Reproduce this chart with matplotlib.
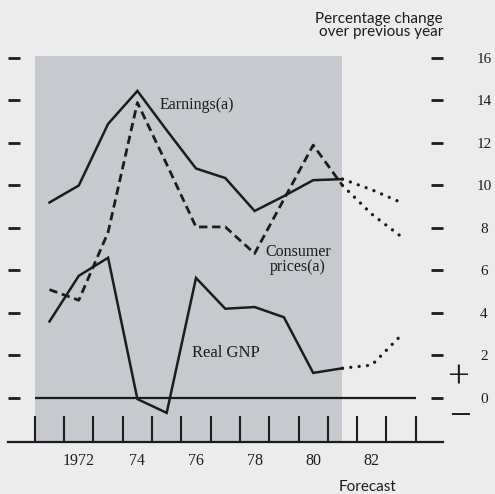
import numpy as np
import matplotlib.pyplot as plt

# values (percentage change over previous year)
years = [1971, 1972, 1973, 1974, 1975, 1976, 1977, 1978, 1979, 1980, 1981]
earnings = [9.2, 10.0, 12.9, 14.45, 12.6, 10.8, 10.35, 8.8, 9.5, 10.25, 10.3]
consumer_prices = [5.1, 4.6, 7.8, 13.9, 11.0, 8.05, 8.05, 6.8, 9.35, 11.9, 10.0]
real_gnp = [3.6, 5.75, 6.6, -0.05, -0.7, 5.65, 4.2, 4.28, 3.8, 1.18, 1.4]

fc_years = [1981, 1982, 1983]
fc_earnings = [10.3, 9.8, 9.2]
fc_consumer_prices = [10.0, 8.65, 7.6]
fc_real_gnp = [1.4, 1.55, 2.95]

label_years = [1972, 1974, 1976, 1978, 1980, 1982]
label_text = ['1972', '74', '76', '78', '80', '82']
y_ticks = [0, 2, 4, 6, 8, 10, 12, 14, 16]
year_edges = np.arange(1970.5, 1984, 1.0)
shade_end = 1981

ink = '#1c1c1c'
paper = '#ececec'
shade = '#c6c9cd'
serif = 'Liberation Serif'

W, H = 495, 494
fig = plt.figure(figsize=(W / 100, H / 100), dpi=100, facecolor=paper)
ax = fig.add_axes([8 / W, 52 / H, 435 / W, 386 / H])
ax.patch.set_visible(False)
ax.set_xlim(1969.584, 1984.43)
ax.set_ylim(-2.071, 16.094)

ax.axvspan(year_edges[0], shade_end, color=shade, lw=0, zorder=0)
ax.hlines(0, year_edges[0], year_edges[-1], color=ink, lw=1.6, zorder=2)

solid = dict(color=ink, lw=1.8, solid_joinstyle='miter', zorder=3)
dotted = dict(color=ink, lw=2.4, ls=(0, (0.01, 2.5)), dash_capstyle='round', zorder=3)

ax.plot(years, earnings, **solid)
ax.plot(years, consumer_prices, color=ink, lw=2.0, ls=(0, (3.0, 1.7)), zorder=3)
ax.plot(years, real_gnp, **solid)
ax.plot(fc_years, fc_earnings, **dotted)
ax.plot(fc_years, fc_consumer_prices, **dotted)
ax.plot(fc_years, fc_real_gnp, **dotted)

# axes furniture
for side in ['left', 'right', 'top']:
    ax.spines[side].set_visible(False)
ax.spines['bottom'].set_linewidth(1.6)
ax.spines['bottom'].set_color(ink)

ax.set_xticks(year_edges, labels=[''] * len(year_edges))
ax.set_xticks(label_years, labels=label_text, minor=True)
ax.tick_params(axis='x', which='major', direction='in', length=19, width=1.5, color=ink)
ax.tick_params(axis='x', which='minor', length=0, pad=8, labelsize=11.5, labelcolor=ink)

ax.set_yticks(y_ticks, labels=[str(v) for v in y_ticks])
ax.tick_params(axis='y', left=True, right=True, labelleft=False, labelright=True,
               direction='in', length=8.5, width=2.0, color=ink, pad=29.5,
               labelsize=11, labelcolor=ink)
for lbl in ax.get_yticklabels():
    lbl.set_ha('center')
for lbl in ax.get_xticklabels(minor=True) + ax.get_yticklabels():
    lbl.set_fontfamily(serif)

# series labels
ax.text(1974.77, 13.79, 'Earnings(a)', ha='left', va='center',
        fontsize=11.5, family=serif, color=ink)
ax.text(1979.48, 6.52, 'Consumer\nprices(a)', ha='center', va='center',
        multialignment='center', linespacing=0.95, fontsize=11.5, family=serif, color=ink)
ax.text(1975.86, 2.12, 'Real GNP', ha='left', va='center',
        fontsize=12, family=serif, color=ink)

# figure texts
fig.text(443 / W, 1 - 25.5 / H, 'Percentage change\nover previous year', ha='right',
         va='center', multialignment='right', linespacing=0.95, fontsize=11,
         family='Lato', color=ink)
fig.text(368 / W, 1 - 487 / H, 'Forecast', ha='center', va='center',
         fontsize=11, family='Lato', color=ink)
fig.text(458 / W, 1 - 378 / H, '+', ha='center', va='center', fontsize=28,
         family=serif, color=ink)
fig.text(460 / W, 1 - 417 / H, '\u2212', ha='center', va='center', fontsize=28,
         family=serif, color=ink)

fig.savefig('out.png', dpi=100, facecolor=paper)
